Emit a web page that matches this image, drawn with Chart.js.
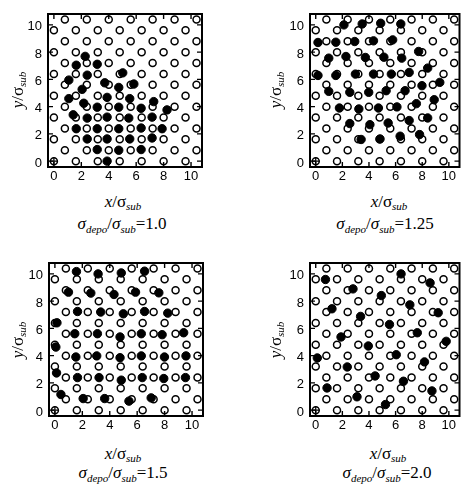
<!DOCTYPE html>
<html>
<head>
<meta charset="utf-8">
<script src="https://cdn.jsdelivr.net/npm/chart.js@4.4.0/dist/chart.umd.min.js"></script>
<style>
  body { margin: 0; background: #fff; width: 465px; height: 484px; position: relative; overflow: hidden; }
  canvas { position: absolute; }
  .lbl { position: absolute; transform: translate(-50%, -50%); white-space: nowrap; color: #000;
         font-family: "Liberation Serif", "Times New Roman", serif; line-height: 1; }
  .ax { font-size: 17px; }
  .ax sub { font-size: 11px; font-style: italic; vertical-align: -3px; line-height: 0; }
  .yax { transform: translate(-50%, -50%) rotate(-90deg); }
  .cap { font-size: 17px; }
  .cap sub { font-size: 11px; font-style: italic; vertical-align: -4px; line-height: 0; }
</style>
</head>
<body>
<canvas id="c0"></canvas>
<canvas id="c1"></canvas>
<canvas id="c2"></canvas>
<canvas id="c3"></canvas>
<div id="labels"></div>
<script>
// tick values (both axes)
const TICKS = [0, 2, 4, 6, 8, 10];

// substrate fcc(100) sites: rows alternate between the two x sets
const SUB_EVEN_X = [0, 1.6, 3.2, 4.8, 6.4, 8.0, 9.6];
const SUB_ODD_X = [0.8, 2.4, 4.0, 5.6, 7.2, 8.8, 10.4];
const SUB_ROW_Y = [0, 0.8, 1.6, 2.4, 3.2, 4.0, 4.8, 5.6, 6.4, 7.2, 8.0, 8.8, 9.6, 10.4];

const RATIOS = ['1.0', '1.25', '1.5', '2.0'];

// deposited atoms
const DEPO_10 = [
  [2.28, 7.69], [1.63, 7.04], [3.16, 7.11], [2.43, 6.31], [5.02, 6.48], [1.09, 5.95],
  [3.71, 5.75], [5.83, 5.66], [2.06, 5.27], [4.73, 5.41], [1.09, 4.59], [3.88, 4.68],
  [5.53, 4.59], [2.18, 4.25], [4.73, 3.96], [7.28, 4.37], [8.25, 3.76], [1.41, 3.4],
  [3.16, 3.96], [6.36, 3.88], [2.43, 3.16], [3.88, 3.23], [5.46, 3.16], [7.16, 3.23],
  [1.63, 2.38], [3.16, 2.38], [4.73, 2.38], [6.36, 2.43], [7.89, 2.38], [2.43, 1.63],
  [3.88, 1.63], [5.53, 1.63], [7.16, 1.7], [3.16, 0.85], [4.73, 0.8], [6.36, 0.85], [3.88, 0]
];
const DEPO_125 = [
  [2.12, 10.0], [3.49, 10.07], [4.88, 10.12], [6.39, 10.07], [0.17, 8.71], [1.51, 8.73],
  [2.93, 8.78], [4.34, 8.83], [5.78, 8.9], [7.73, 8.05], [0.98, 7.56], [2.27, 7.68],
  [3.73, 7.61], [5.12, 7.63], [6.46, 7.56], [8.41, 6.83], [7.02, 6.51], [0.17, 6.29],
  [1.51, 6.29], [2.98, 6.39], [4.34, 6.39], [5.68, 6.39], [9.32, 5.78], [7.98, 5.54],
  [0.98, 5.12], [2.56, 5.05], [3.98, 5.05], [5.29, 5.17], [6.71, 5.17], [8.9, 4.51],
  [7.56, 4.22], [1.78, 3.9], [3.24, 3.83], [4.71, 3.9], [6.1, 3.98], [8.41, 3.17],
  [7.02, 2.98], [2.56, 2.76], [4.07, 2.68], [5.44, 2.8], [7.8, 1.95], [3.41, 1.59],
  [4.83, 1.63], [6.34, 1.83]
];
const DEPO_15 = [
  [1.57, 10.17], [3.15, 10.0], [4.84, 10.07], [6.54, 10.2], [0.99, 8.66], [2.62, 8.59],
  [4.31, 8.49], [5.88, 8.66], [7.58, 8.61], [1.65, 7.24], [3.34, 7.2], [4.99, 7.07],
  [6.54, 7.24], [8.23, 7.12], [0.15, 6.41], [1.45, 5.61], [3.1, 5.61], [4.75, 5.37],
  [6.3, 5.61], [7.82, 5.54], [9.39, 5.68], [0.07, 4.63], [1.53, 3.9], [3.05, 3.98],
  [4.75, 3.85], [6.3, 3.98], [7.99, 3.9], [9.56, 3.98], [0.12, 2.73], [1.65, 2.39],
  [3.22, 2.39], [4.84, 2.2], [6.37, 2.39], [7.94, 2.32], [9.52, 2.39], [0.44, 1.15],
  [2.06, 0.85], [3.63, 0.85], [5.4, 0.66], [7.02, 0.9]
];
const DEPO_20 = [
  [0.73, 9.59], [2.8, 8.9], [4.93, 8.41], [6.41, 10.0], [8.59, 9.34], [1.22, 7.44],
  [3.37, 6.88], [7.07, 7.73], [9.2, 7.15], [5.54, 6.29], [1.9, 5.37], [3.95, 4.71],
  [7.63, 5.68], [9.8, 5.05], [0.12, 3.83], [6.05, 4.07], [2.37, 3.17], [8.17, 3.54],
  [4.46, 2.51], [6.59, 2.12], [0.85, 1.63], [3.1, 0.98], [5.24, 0.41], [8.73, 1.41]
];
const DEPOSITS = [DEPO_10, DEPO_125, DEPO_15, DEPO_20];

const AX_MIN = -0.43, AX_MAX = 10.8;

// canvas box and plot frame, page pixels
const PANELS = [
  { canvas: [0, 0, 235, 190], area: [48, 14, 202, 167], xl: [123, 201], cap: [122, 223], yl: [17, 90] },
  { canvas: [235, 0, 230, 190], area: [310, 14, 462, 167], xl: [389, 201], cap: [385, 223], yl: [275, 90] },
  { canvas: [0, 240, 235, 195], area: [49, 263, 203, 416], xl: [123, 453], cap: [123, 472], yl: [17, 340] },
  { canvas: [235, 240, 230, 195], area: [310, 263, 462, 416], xl: [388, 453], cap: [387, 472], yl: [275, 340] }
];

function substrate() {
  let pts = [];
  SUB_ROW_Y.forEach((y, j) => {
    (j % 2 ? SUB_ODD_X : SUB_EVEN_X).forEach(x => pts.push({ x: x, y: y }));
  });
  return pts;
}

// box + inward ticks on four sides
const frame = {
  id: 'frame',
  afterDatasetsDraw(chart) {
    const ctx = chart.ctx, a = chart.chartArea;
    const sx = chart.scales.x, sy = chart.scales.y;
    ctx.save();
    ctx.strokeStyle = '#000';
    ctx.lineWidth = 2;
    ctx.strokeRect(a.left, a.top, a.right - a.left, a.bottom - a.top);
    ctx.lineWidth = 1.4;
    ctx.beginPath();
    TICKS.forEach(v => {
      const px = sx.getPixelForValue(v), py = sy.getPixelForValue(v);
      ctx.moveTo(px, a.bottom); ctx.lineTo(px, a.bottom - 5);
      ctx.moveTo(px, a.top); ctx.lineTo(px, a.top + 5);
      ctx.moveTo(a.left, py); ctx.lineTo(a.left + 5, py);
      ctx.moveTo(a.right, py); ctx.lineTo(a.right - 5, py);
    });
    ctx.stroke();
    ctx.restore();
  }
};

function makePanel(k) {
  const p = PANELS[k];
  const [cl, ct, cw, ch] = p.canvas;
  const [al, at, ar, ab] = p.area;
  const cv = document.getElementById('c' + k);
  cv.width = cw; cv.height = ch;
  cv.style.left = cl + 'px'; cv.style.top = ct + 'px';
  const yW = al - cl, xH = ct + ch - ab;
  const tickFont = { family: 'Liberation Sans', size: 13 };

  new Chart(cv, {
    type: 'scatter',
    data: {
      datasets: [
        { data: DEPOSITS[k].map(d => ({ x: d[0], y: d[1] })), pointRadius: 4.2, borderWidth: 1,
          borderColor: '#000', backgroundColor: '#000' },
        { data: [{ x: 0, y: 0 }], pointStyle: 'cross', pointRadius: 4, borderWidth: 1.2, borderColor: '#000' },
        { data: substrate(), pointRadius: 3.5, borderWidth: 1.5, borderColor: '#000', backgroundColor: '#fff' }
      ]
    },
    options: {
      responsive: false,
      animation: false,
      events: [],
      layout: { padding: { left: 0, top: at - ct, right: cl + cw - ar, bottom: 0 } },
      plugins: { legend: { display: false }, tooltip: { enabled: false } },
      scales: {
        x: {
          type: 'linear', min: AX_MIN, max: AX_MAX,
          grid: { display: false, drawTicks: false }, border: { display: false },
          ticks: { color: '#000', font: tickFont, padding: 2, autoSkip: false, maxRotation: 0 },
          afterBuildTicks: s => { s.ticks = TICKS.map(v => ({ value: v })); },
          afterFit: s => { s.height = xH; s.paddingLeft = 0; s.paddingRight = 0; }
        },
        y: {
          type: 'linear', min: AX_MIN, max: AX_MAX,
          grid: { display: false, drawTicks: false }, border: { display: false },
          ticks: { color: '#000', font: tickFont, padding: 6, autoSkip: false, labelOffset: 2 },
          afterBuildTicks: s => { s.ticks = TICKS.map(v => ({ value: v })); },
          afterFit: s => { s.width = yW; s.paddingTop = 0; s.paddingBottom = 0; }
        }
      }
    },
    plugins: [frame]
  });

  // axis titles and caption
  const box = document.getElementById('labels');
  box.insertAdjacentHTML('beforeend',
    `<div class="lbl ax" style="left:${p.xl[0]}px;top:${p.xl[1]}px"><i>x</i>/σ<sub>sub</sub></div>` +
    `<div class="lbl ax yax" style="left:${p.yl[0]}px;top:${p.yl[1]}px"><i>y</i>/σ<sub>sub</sub></div>` +
    `<div class="lbl cap" style="left:${p.cap[0]}px;top:${p.cap[1]}px"><i>σ</i><sub>depo</sub>/<i>σ</i><sub>sub</sub>=${RATIOS[k]}</div>`);
}

PANELS.forEach((p, k) => makePanel(k));
</script>
</body>
</html>
